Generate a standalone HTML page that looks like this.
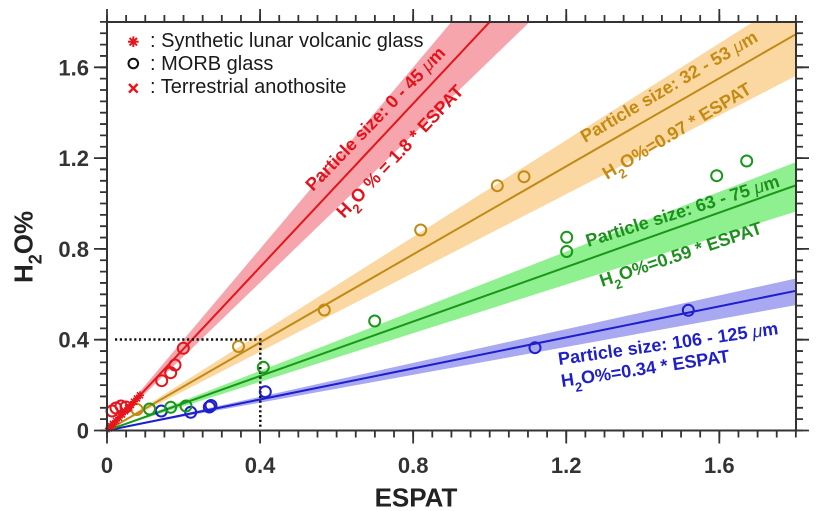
<!DOCTYPE html>
<html><head><meta charset="utf-8"><style>
html,body{margin:0;padding:0;background:#fff;}
svg{display:block;}
text{font-family:"Liberation Sans",Arial,sans-serif;}
</style></head><body>
<svg width="820" height="511" viewBox="0 0 820 511" xmlns="http://www.w3.org/2000/svg">
<defs>
<clipPath id="pa"><rect x="107" y="22" width="689" height="408.5"/></clipPath>
<g id="ast" stroke="#e8141c" stroke-width="1.6"><line x1="-4" y1="0" x2="4" y2="0"/><line x1="0" y1="-4" x2="0" y2="4"/><line x1="-3" y1="-3" x2="3" y2="3"/><line x1="-3" y1="3" x2="3" y2="-3"/></g>
</defs>
<rect width="820" height="511" fill="#fff"/>
<g clip-path="url(#pa)">
<polygon points="107,430.5 795.9,278.5 795.9,305.1" fill="#a9a9f2"/>
<polygon points="107,430.5 795.9,162.1 795.9,211.5" fill="#8ef08e"/>
<polygon points="107,430.5 795.9,-5.1 795.9,75.9" fill="#fbd8a2"/>
<polygon points="107,430.5 795.9,-386.7 795.9,-235.5" fill="#f6a5ac"/>
<line x1="107" y1="430.5" x2="795.9" y2="290.8" stroke="#1e1ecc" stroke-width="2"/>
<line x1="107" y1="430.5" x2="795.9" y2="185.3" stroke="#1a961a" stroke-width="2"/>
<line x1="107" y1="430.5" x2="795.9" y2="34.2" stroke="#c08a14" stroke-width="2"/>
<line x1="107" y1="430.5" x2="795.9" y2="-305" stroke="#e3161c" stroke-width="2"/>
</g>
<!-- dotted -->
<path d="M115 339.5H260.3V428" fill="none" stroke="#111" stroke-width="2.5" stroke-dasharray="2.2 2.6"/>
<!-- data points -->
<g fill="none" stroke-width="2">
<g stroke="#1e1ecc">
<circle cx="161.3" cy="411" r="5.5"/><circle cx="190.7" cy="412.3" r="5.5"/><circle cx="209.3" cy="407" r="5.5"/><circle cx="211" cy="405.5" r="5.5"/><circle cx="265.3" cy="391.7" r="5.5"/><circle cx="535" cy="347.7" r="5.5"/><circle cx="688.3" cy="310.3" r="5.5"/>
</g>
<g stroke="#1a961a">
<circle cx="149.5" cy="409" r="5.5"/><circle cx="170.7" cy="407.3" r="5.5"/><circle cx="186" cy="406" r="5.5"/><circle cx="263.3" cy="367.3" r="5.5"/><circle cx="374.7" cy="321" r="5.5"/><circle cx="566.7" cy="237.3" r="5.5"/><circle cx="566.7" cy="251.5" r="5.5"/><circle cx="716.7" cy="175.7" r="5.5"/><circle cx="746.7" cy="161" r="5.5"/>
</g>
<g stroke="#c08a14">
<circle cx="137" cy="409.5" r="5.5"/><circle cx="238.5" cy="346.5" r="5.5"/><circle cx="324.3" cy="310" r="5.5"/><circle cx="420.7" cy="230" r="5.5"/><circle cx="497.3" cy="185.7" r="5.5"/><circle cx="524" cy="176.7" r="5.5"/>
</g>
<g stroke="#e3161c">
<circle cx="183.3" cy="348.3" r="5.5"/><circle cx="175" cy="365" r="5.5"/><circle cx="170.7" cy="372.7" r="5.5"/><circle cx="161.7" cy="380.7" r="5.5"/><circle cx="112" cy="411" r="5.5"/><circle cx="116" cy="408" r="5.5"/><circle cx="121" cy="406" r="5.5"/><circle cx="126" cy="407" r="5.5"/>
</g>
</g>
<g>
<use href="#ast" x="109" y="428.4"/><use href="#ast" x="111" y="426.2"/><use href="#ast" x="113" y="424.1"/><use href="#ast" x="116" y="420.9"/><use href="#ast" x="119" y="417.7"/><use href="#ast" x="122" y="414.5"/><use href="#ast" x="125" y="411.3"/><use href="#ast" x="128" y="408.1"/><use href="#ast" x="131" y="404.9"/><use href="#ast" x="134" y="401.7"/><use href="#ast" x="137" y="398.5"/><use href="#ast" x="140" y="395.3"/>
</g>
<g stroke="#e3161c" stroke-width="1.6"><path d="M107 425l5 5M112 425l-5 5M110 421l5 5M115 421l-5 5"/></g>
<!-- axes -->
<rect x="107" y="22" width="689" height="408.5" fill="none" stroke="#333" stroke-width="2"/>
<g stroke="#333" stroke-width="1.8" fill="none">
<path d="M107 430.5v7m19.135 -7v7m19.135 -7v7m19.135 -7v7m19.135 -7v7m19.135 -7v7m19.135 -7v7m19.135 -7v7m19.135 -7v7m19.135 -7v7m19.135 -7v7m19.135 -7v7m19.135 -7v7m19.135 -7v7m19.135 -7v7m19.135 -7v7m19.135 -7v7m19.135 -7v7m19.135 -7v7m19.135 -7v7m19.135 -7v7m19.135 -7v7m19.135 -7v7m19.135 -7v7m19.135 -7v7m19.135 -7v7m19.135 -7v7m19.135 -7v7m19.135 -7v7m19.135 -7v7m19.135 -7v7m19.135 -7v7m19.135 -7v7m19.135 -7v7m19.135 -7v7m19.135 -7v7m19.135 -7v7"/>
<path d="M107 22v-7m19.135 7v-7m19.135 7v-7m19.135 7v-7m19.135 7v-7m19.135 7v-7m19.135 7v-7m19.135 7v-7m19.135 7v-7m19.135 7v-7m19.135 7v-7m19.135 7v-7m19.135 7v-7m19.135 7v-7m19.135 7v-7m19.135 7v-7m19.135 7v-7m19.135 7v-7m19.135 7v-7m19.135 7v-7m19.135 7v-7m19.135 7v-7m19.135 7v-7m19.135 7v-7m19.135 7v-7m19.135 7v-7m19.135 7v-7m19.135 7v-7m19.135 7v-7m19.135 7v-7m19.135 7v-7m19.135 7v-7m19.135 7v-7m19.135 7v-7m19.135 7v-7m19.135 7v-7m19.135 7v-7"/>
<path d="M107 430.5h-7m7 -11.35h-7m7 -11.35h-7m7 -11.35h-7m7 -11.35h-7m7 -11.35h-7m7 -11.35h-7m7 -11.35h-7m7 -11.35h-7m7 -11.35h-7m7 -11.35h-7m7 -11.35h-7m7 -11.35h-7m7 -11.35h-7m7 -11.35h-7m7 -11.35h-7m7 -11.35h-7m7 -11.35h-7m7 -11.35h-7m7 -11.35h-7m7 -11.35h-7m7 -11.35h-7m7 -11.35h-7m7 -11.35h-7m7 -11.35h-7m7 -11.35h-7m7 -11.35h-7m7 -11.35h-7m7 -11.35h-7m7 -11.35h-7m7 -11.35h-7m7 -11.35h-7m7 -11.35h-7m7 -11.35h-7m7 -11.35h-7m7 -11.35h-7m7 -11.35h-7"/>
<path d="M796 430.5h7m-7 -11.35h7m-7 -11.35h7m-7 -11.35h7m-7 -11.35h7m-7 -11.35h7m-7 -11.35h7m-7 -11.35h7m-7 -11.35h7m-7 -11.35h7m-7 -11.35h7m-7 -11.35h7m-7 -11.35h7m-7 -11.35h7m-7 -11.35h7m-7 -11.35h7m-7 -11.35h7m-7 -11.35h7m-7 -11.35h7m-7 -11.35h7m-7 -11.35h7m-7 -11.35h7m-7 -11.35h7m-7 -11.35h7m-7 -11.35h7m-7 -11.35h7m-7 -11.35h7m-7 -11.35h7m-7 -11.35h7m-7 -11.35h7m-7 -11.35h7m-7 -11.35h7m-7 -11.35h7m-7 -11.35h7m-7 -11.35h7m-7 -11.35h7m-7 -11.35h7"/>
<path d="M107 430.5v13M260.08 430.5v13M413.16 430.5v13M566.24 430.5v13M719.32 430.5v13"/>
<path d="M107 22v-13M260.08 22v-13M413.16 22v-13M566.24 22v-13M719.32 22v-13"/>
<path d="M107 430.5h-13M107 339.7h-13M107 248.9h-13M107 158.1h-13M107 67.3h-13"/>
<path d="M796 430.5h13M796 339.7h13M796 248.9h13M796 158.1h13M796 67.3h13"/>
</g>
<!-- tick labels -->
<g font-size="22" font-weight="bold" fill="#333">
<g text-anchor="end">
<text x="89" y="438.5">0</text><text x="89" y="347.7">0.4</text><text x="89" y="256.9">0.8</text><text x="89" y="166.1">1.2</text><text x="89" y="75.3">1.6</text>
</g>
<g text-anchor="middle">
<text x="107" y="473">0</text><text x="260.1" y="473">0.4</text><text x="413.2" y="473">0.8</text><text x="566.2" y="473">1.2</text><text x="719.3" y="473">1.6</text>
</g>
</g>
<text x="416" y="506.5" font-size="26" font-weight="bold" fill="#222" text-anchor="middle">ESPAT</text>
<text transform="translate(32.5,283) rotate(-90)" font-size="26" font-weight="bold" fill="#222">H<tspan font-size="18" dy="9">2</tspan><tspan dy="-9">O%</tspan></text>
<!-- legend -->
<g stroke="#e8141c" stroke-width="2"><line x1="128" y1="41.7" x2="138.6" y2="41.7"/><line x1="133.3" y1="36.4" x2="133.3" y2="47"/><line x1="129.6" y1="38" x2="137" y2="45.4"/><line x1="129.6" y1="45.4" x2="137" y2="38"/></g>
<circle cx="133.3" cy="63.5" r="4.8" fill="none" stroke="#111" stroke-width="2"/>
<g stroke="#e8141c" stroke-width="2.4"><line x1="129" y1="84" x2="137.6" y2="92.6"/><line x1="129" y1="92.6" x2="137.6" y2="84"/></g>
<g font-size="20" fill="#1a1a1a">
<text x="150" y="47">: Synthetic lunar volcanic glass</text>
<text x="150" y="70">: MORB glass</text>
<text x="150" y="93">: Terrestrial anothosite</text>
</g>
<!-- series labels -->
<g font-size="18" font-weight="bold">
<text transform="translate(313,192) rotate(-46)" fill="#e3121b">Particle size: 0 - 45 <tspan font-style="italic" font-weight="normal">μ</tspan>m</text>
<text transform="translate(344,219) rotate(-46.5)" fill="#e3121b">H<tspan font-size="13" dy="7">2</tspan><tspan dy="-7">O % = 1.8 * ESPAT</tspan></text>
<text transform="translate(585,143) rotate(-30.5)" fill="#c48a12">Particle size: 32 - 53 <tspan font-style="italic" font-weight="normal">μ</tspan>m</text>
<text transform="translate(607,180) rotate(-31)" fill="#c48a12">H<tspan font-size="13" dy="7">2</tspan><tspan dy="-7">O%=0.97 * ESPAT</tspan></text>
<text transform="translate(588,247) rotate(-17.5)" fill="#1d8f1d">Particle size: 63 - 75 <tspan font-style="italic" font-weight="normal">μ</tspan>m</text>
<text transform="translate(602,287) rotate(-18.5)" fill="#1d8f1d">H<tspan font-size="13" dy="7">2</tspan><tspan dy="-7">O%=0.59 * ESPAT</tspan></text>
<text transform="translate(559,365) rotate(-8)" fill="#1f1fc8">Particle size: 106 - 125 <tspan font-style="italic" font-weight="normal">μ</tspan>m</text>
<text transform="translate(562,387) rotate(-8.5)" fill="#1f1fc8">H<tspan font-size="13" dy="7">2</tspan><tspan dy="-7">O%=0.34 * ESPAT</tspan></text>
</g>
</svg>
</body></html>
